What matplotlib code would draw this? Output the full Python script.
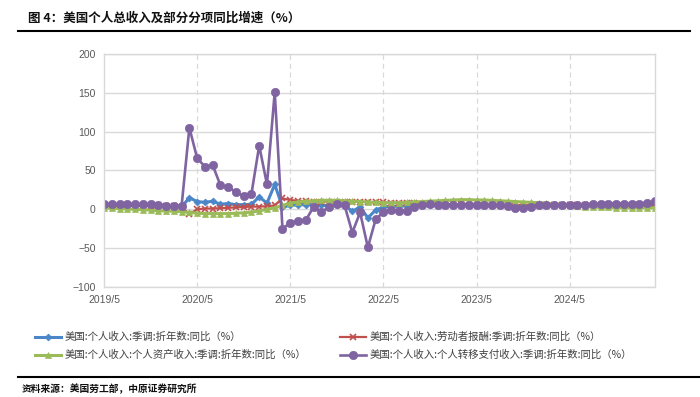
import matplotlib
matplotlib.use("Agg")
import matplotlib.pyplot as plt
from matplotlib.lines import Line2D
import numpy as np

plt.rcParams['font.family'] = ['Noto Sans CJK SC', 'DejaVu Sans']

months = [f"{2019 + (4 + i) // 12}/{(4 + i) % 12 + 1}" for i in range(72)]
tick_labels = ["2019/5", "2020/5", "2021/5", "2022/5", "2023/5", "2024/5"]

personal_income = [5, 5, 5, 5, 5, 4.5, 4.5, 4.5, 4, 3.5, 3,
                   15, 10, 9, 10.5, 6.5, 7.5, 6, 6, 6.5, 16, 8, 32, 3,
                   5, 6, 6, 6, 5, 5, 6, 5, -2.5, 3, -11, -1,
                   3, 4, 4, 4.5, 5, 5.5, 5.5, 5.5, 6, 6, 6, 6,
                   6, 5.5, 5.5, 5.5, 5.5, 5, 5, 5, 5, 5, 5, 5,
                   5, 5, 5, 5, 5, 5, 5, 5, 5, 4.5, 4.5, 5]
compensation = [4.5, 4.5, 4.5, 4.5, 4.5, 4.5, 4.5, 4.5, 4.5, 4, 2.5,
                -6, 0, 1, 1, 1.5, 2, 2.5, 3, 3.5, 3.5, 4, 5, 14,
                12, 11, 10.5, 10, 10, 10, 10, 10, 10, 9.5, 9.5, 9,
                9, 8.5, 8, 8, 8, 7.5, 7.5, 7, 7, 6.5, 6.5, 6,
                6, 6, 5.5, 5.5, 5.5, 5.5, 5.5, 5.5, 5.5, 5.5, 5.5, 5.5,
                5.5, 5.5, 5.5, 5.5, 5.5, 5.5, 5.5, 5.5, 5.5, 5.5, 5.5, 5]
asset_income = [2, 1.5, 1, 0.5, 0, -0.5, -1, -2, -2, -2.5, -3,
                -4, -5, -5.5, -5.5, -5.5, -5.5, -5, -4.5, -3.5, -2, 0, 2, 5,
                8, 9.5, 10.5, 11, 11.5, 11.5, 11.5, 11, 10.5, 10, 9.5, 9,
                8.5, 8.5, 8.5, 9, 9.5, 10, 10.5, 11, 11.5, 12, 12.5, 12.5,
                12, 12, 11.5, 11, 10.5, 10, 9.5, 9, 8.5, 8, 7, 6,
                5, 4, 3.5, 3, 2.5, 2.5, 2, 2, 2, 2, 2, 2]
transfer_receipts = [6.5, 6.5, 6.5, 6.5, 6.5, 6.5, 6.5, 5.5, 4.5, 4, 4.5,
                     105, 66, 55, 57, 31, 29, 22, 17, 20, 82, 32, 151, -25,
                     -17.5, -15, -14, 3, -3.5, 3, 7, 5, -30, -4, -49, -13,
                     -3.5, -0.5, -2, -2, 3, 6, 6.5, 6, 5.5, 5.5, 5.5, 5.5,
                     5.5, 5, 5, 5, 4, 2, 2, 2.5, 5, 5, 5, 5,
                     5.5, 5.5, 6, 6.5, 7, 7, 7.5, 7.5, 7, 7.5, 8.5, 10.5]

labels = ["美国:个人收入:季调:折年数:同比（%）",
          "美国:个人收入:劳动者报酬:季调:折年数:同比（%）",
          "美国:个人收入:个人资产收入:季调:折年数:同比（%）",
          "美国:个人收入:个人转移支付收入:季调:折年数:同比（%）"]
colors = ["#4A86C8", "#C0504D", "#9BBB59", "#8064A2"]
markers = ["D", "x", "^", "o"]
msizes = [3.5, 4, 4.5, 6]
lws = [2.2, 1.6, 2.2, 1.9]
series = [personal_income, compensation, asset_income, transfer_receipts]

W, H = 700, 397
fig = plt.figure(figsize=(7, 3.97), dpi=100)
ax = fig.add_axes([104 / W, 1 - 287 / H, (655 - 104) / W, (287 - 54) / H])

x = np.arange(len(months))
for s, c, m, ms, lw in zip(series, colors, markers, msizes, lws):
    ax.plot(x, s, color=c, marker=m, markersize=ms, linewidth=lw,
            markeredgewidth=1.2 if m == "x" else 0.5, markeredgecolor=c)

ax.set_xlim(0, len(months) - 1)
ax.set_ylim(-100, 200)
ax.set_yticks(np.arange(-100, 201, 50))
ax.set_yticklabels([f"{v}" if v >= 0 else f"\u2212{abs(v)}" for v in range(-100, 201, 50)],
                   family=['Liberation Sans', 'DejaVu Sans'])
tick_pos = [months.index(t) for t in tick_labels]
ax.set_xticks(tick_pos)
ax.set_xticklabels(tick_labels, family=['Liberation Sans', 'DejaVu Sans'])
ax.tick_params(axis='both', length=0, labelsize=7.5, colors='#595959', pad=6)
ax.grid(axis='y', color='#D9D9D9', linewidth=1.0)
for p in tick_pos[1:]:
    ax.axvline(p, color='#D9D9D9', linewidth=0.9, linestyle=(0, (4, 3)), zorder=0.5)
for sp in ax.spines.values():
    sp.set_color('#D9D9D9')
    sp.set_linewidth(1.0)
ax.set_axisbelow(True)

# title
fig.text(28 / W, 1 - 18 / H, "图 4：美国个人总收入及部分分项同比增速（%）",
         fontsize=9, fontweight='bold', va='center', ha='left', color='#111111')
fig.add_artist(Line2D([18 / W, 690 / W], [1 - 31 / H, 1 - 31 / H], color='black', linewidth=1.5))

# legend (manual)
pos = [(35, 337), (340, 337), (35, 355), (340, 355)]
for (lx, ly), lab, c, m, ms, lw in zip(pos, labels, colors, markers, msizes, lws):
    yy = 1 - ly / H
    fig.add_artist(Line2D([lx / W, (lx + 26) / W], [yy, yy], color=c, linewidth=lw))
    fig.add_artist(Line2D([(lx + 13) / W], [yy], color=c, marker=m, markersize=ms,
                          markeredgewidth=1.2 if m == "x" else 0.5, markeredgecolor=c, linestyle='none'))
    fig.text((lx + 30) / W, yy, lab, fontsize=7.5, va='center', ha='left', color='#404040')

# footer
fig.add_artist(Line2D([18 / W, 700 / W], [1 - 377 / H, 1 - 377 / H], color='black', linewidth=1.5))
fig.text(22 / W, 1 - 389 / H, "资料来源：美国劳工部，中原证券研究所", fontsize=7,
         fontweight='bold', va='center', ha='left', color='#111111')

fig.savefig("out.png", dpi=100)
